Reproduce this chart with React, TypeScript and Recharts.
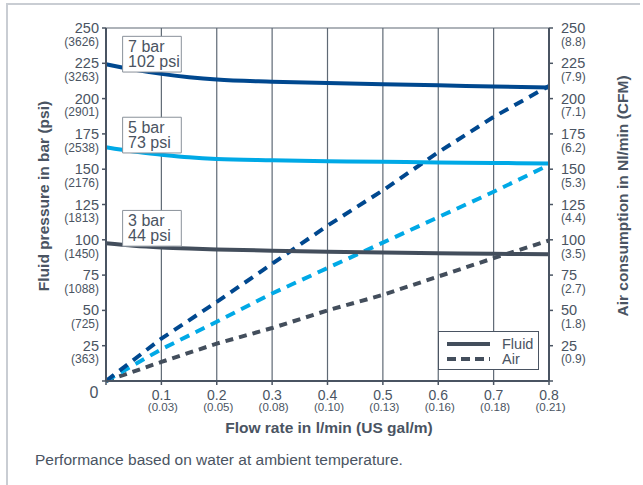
import React from "react";
import {
  ComposedChart,
  Line,
  XAxis,
  YAxis,
  CartesianGrid,
  ReferenceArea,
  Legend,
} from "recharts";

// ---- data ----
const xFluid = [0, 0.05, 0.1, 0.15, 0.2, 0.3, 0.4, 0.5, 0.6, 0.7, 0.8];
const fluid7 = [224.3, 220.5, 217.5, 215.2, 213.5, 212, 211, 210.2, 209.4, 208.6, 207.8];
const fluid5 = [165.5, 162.5, 160.3, 158.4, 157.2, 156.3, 155.7, 155.2, 154.8, 154.4, 154.1];
const fluid3 = [97.6, 95.8, 94.6, 93.8, 93.2, 92.3, 91.6, 91, 90.5, 90.1, 89.7];

const xAir = [0, 0.1, 0.2, 0.3, 0.4, 0.5, 0.6, 0.7, 0.8];
const air7 = [0, 30, 56, 83, 110, 135, 162, 187, 209];
const air5 = [0, 22.5, 42, 62, 80, 98, 116, 134, 153];
const air3 = [0, 13.5, 26.5, 37.5, 50, 61, 74, 87, 99.5];

const xTicks = [0, 0.1, 0.2, 0.3, 0.4, 0.5, 0.6, 0.7, 0.8];
const xTickSub = ["", "(0.03)", "(0.05)", "(0.08)", "(0.10)", "(0.13)", "(0.16)", "(0.18)", "(0.21)"];
const yTicks = [0, 25, 50, 75, 100, 125, 150, 175, 200, 225, 250];
const psiLabels = ["", "(363)", "(725)", "(1088)", "(1450)", "(1813)", "(2176)", "(2538)", "(2901)", "(3263)", "(3626)"];
const cfmLabels = ["", "(0.9)", "(1.8)", "(2.7)", "(3.5)", "(4.4)", "(5.3)", "(6.2)", "(7.1)", "(7.9)", "(8.8)"];

const pressureLabels = [
  { bar: "7 bar", psi: "102 psi", x1: 0.03, x2: 0.136, y1: 218.8, y2: 244.1 },
  { bar: "5 bar", psi: "73 psi", x1: 0.03, x2: 0.136, y1: 161.5, y2: 186.8 },
  { bar: "3 bar", psi: "44 psi", x1: 0.03, x2: 0.136, y1: 95.5, y2: 120.8 },
];

const build = (xs: number[], ys: number[]) => xs.map((x, i) => ({ x, y: ys[i] }));

// ---- styles ----
const NAVY = "#00488f";
const LIGHT = "#00a9e6";
const DARK = "#434e5c";
const TEXT = "#4a5462";
const AXIS = "#4a5462";
const GRID = "#5f6975";
const FONT = "'Liberation Sans', Arial, sans-serif";

const LeftTick = (props: any) => {
  const { x, y, payload } = props;
  const i = yTicks.indexOf(payload.value);
  if (payload.value === 0) return null;
  return (
    <g>
      <text x={x} y={y + 5} textAnchor="end" fontSize={14.5} fill={TEXT} fontFamily={FONT}>
        {payload.value}
      </text>
      <text x={x} y={y + 17.7} textAnchor="end" fontSize={12} fill={TEXT} fontFamily={FONT}>
        {psiLabels[i]}
      </text>
    </g>
  );
};

const RightTick = (props: any) => {
  const { x, y, payload } = props;
  const i = yTicks.indexOf(payload.value);
  if (payload.value === 0) return null;
  return (
    <g>
      <text x={x} y={y + 5} textAnchor="start" fontSize={14.5} fill={TEXT} fontFamily={FONT}>
        {payload.value}
      </text>
      <text x={x} y={y + 17.7} textAnchor="start" fontSize={12} fill={TEXT} fontFamily={FONT}>
        {cfmLabels[i]}
      </text>
    </g>
  );
};

const BottomTick = (props: any) => {
  const { x, y, payload } = props;
  const i = xTicks.indexOf(payload.value);
  if (payload.value === 0) {
    return (
      <text x={x - 12} y={y + 11.3} textAnchor="middle" fontSize={16} fill={TEXT} fontFamily={FONT}>
        0
      </text>
    );
  }
  return (
    <g>
      <text x={x} y={y + 13} textAnchor="middle" fontSize={14} fill={TEXT} fontFamily={FONT}>
        {payload.value}
      </text>
      <text x={x + 1.5} y={y + 24} textAnchor="middle" fontSize={11.5} fill={TEXT} fontFamily={FONT}>
        {xTickSub[i]}
      </text>
    </g>
  );
};

const LegendBox = () => (
  <div
    style={{
      width: 99,
      height: 37,
      border: `1px solid ${AXIS}`,
      background: "#fff",
      boxSizing: "content-box",
    }}
  >
    <svg width={99} height={37}>
      <line x1={8} y1={12} x2={51} y2={12} stroke={DARK} strokeWidth={4} />
      <text x={63} y={17} fontSize={14.5} fill={TEXT} fontFamily={FONT}>Fluid</text>
      <line x1={8} y1={27} x2={51} y2={27} stroke={DARK} strokeWidth={4} strokeDasharray="9 5" />
      <text x={63} y={32} fontSize={14.5} fill={TEXT} fontFamily={FONT}>Air</text>
    </svg>
  </div>
);

export default function App() {
  return (
    <div style={{ position: "absolute", left: 0, top: 0, width: 643, height: 485, background: "#fff" }}>
      <div
        style={{
          position: "absolute",
          left: 6,
          top: 3,
          width: 634,
          height: 482,
          borderTop: "2px solid #c9cdd3",
          borderLeft: "2px solid #c9cdd3",
          boxSizing: "border-box",
        }}
      />
      <ComposedChart
        width={643}
        height={485}
        margin={{ top: 28, right: 34, bottom: 64, left: 46 }}
        style={{ position: "absolute", left: 0, top: 0 }}
      >
        <CartesianGrid stroke={GRID} strokeWidth={1.2} />
        <XAxis
          dataKey="x"
          type="number"
          domain={[0, 0.8]}
          ticks={xTicks}
          interval={0}
          height={40}
          axisLine={{ stroke: AXIS, strokeWidth: 2 }}
          tickLine={{ stroke: AXIS, strokeWidth: 1.5 }}
          tickSize={4}
          tickMargin={2}
          tick={<BottomTick />}
          allowDuplicatedCategory={false}
          label={{
            content: () => (
              <text x={329} y={433} textAnchor="middle" fontSize={15.5} fontWeight="bold" fill={TEXT} fontFamily={FONT}>
                Flow rate in l/min (US gal/m)
              </text>
            ),
          }}
        />
        <YAxis
          yAxisId="l"
          type="number"
          domain={[0, 250]}
          ticks={yTicks}
          interval={0}
          width={60}
          axisLine={{ stroke: AXIS, strokeWidth: 2 }}
          tickLine={{ stroke: AXIS, strokeWidth: 1.5 }}
          tickSize={4}
          tickMargin={3}
          tick={<LeftTick />}
          label={{
            content: () => (
              <text
                x={43.5}
                y={196}
                transform="rotate(-90 43.5 196)"
                textAnchor="middle"
                dominantBaseline="central"
                fontSize={15.5}
                fontWeight="bold"
                fill={TEXT}
                fontFamily={FONT}
              >
                Fluid pressure in bar (psi)
              </text>
            ),
          }}
        />
        <YAxis
          yAxisId="r"
          orientation="right"
          type="number"
          domain={[0, 250]}
          ticks={yTicks}
          interval={0}
          width={60}
          axisLine={{ stroke: AXIS, strokeWidth: 2 }}
          tickLine={{ stroke: AXIS, strokeWidth: 1.5 }}
          tickSize={4}
          tickMargin={8}
          tick={<RightTick />}
          label={{
            content: () => (
              <text
                x={622.5}
                y={196}
                transform="rotate(-90 622.5 196)"
                textAnchor="middle"
                dominantBaseline="central"
                fontSize={15.5}
                fontWeight="bold"
                fill={TEXT}
                fontFamily={FONT}
              >
                Air consumption in Nl/min (CFM)
              </text>
            ),
          }}
        />
        <Line yAxisId="r" data={build(xAir, air3)} dataKey="y" type="linear" stroke={DARK} strokeWidth={4} strokeDasharray="8 6" dot={false} isAnimationActive={false} legendType="none" />
        <Line yAxisId="r" data={build(xAir, air5)} dataKey="y" type="linear" stroke={LIGHT} strokeWidth={4} strokeDasharray="10 7" dot={false} isAnimationActive={false} legendType="none" />
        <Line yAxisId="r" data={build(xAir, air7)} dataKey="y" type="linear" stroke={NAVY} strokeWidth={4} strokeDasharray="10 7" dot={false} isAnimationActive={false} legendType="none" />
        <Line yAxisId="l" data={build(xFluid, fluid3)} dataKey="y" type="monotone" stroke={DARK} strokeWidth={4} dot={false} isAnimationActive={false} legendType="none" />
        <Line yAxisId="l" data={build(xFluid, fluid5)} dataKey="y" type="monotone" stroke={LIGHT} strokeWidth={4} dot={false} isAnimationActive={false} legendType="none" />
        <Line yAxisId="l" data={build(xFluid, fluid7)} dataKey="y" type="monotone" stroke={NAVY} strokeWidth={4} dot={false} isAnimationActive={false} legendType="none" />
        {pressureLabels.map((p) => (
          <ReferenceArea
            key={p.bar}
            yAxisId="l"
            x1={p.x1}
            x2={p.x2}
            y1={p.y1}
            y2={p.y2}
            fill="#ffffff"
            fillOpacity={1}
            stroke="#8a919a"
            strokeWidth={1}
            zIndex={1000}
            label={{
              content: (lp: any) => {
                const vb = lp.viewBox || { x: 0, y: 0 };
                return (
                  <g>
                    <text x={vb.x + 5.5} y={vb.y + 15.7} fontSize={16} fill={TEXT} fontFamily={FONT}>
                      {p.bar}
                    </text>
                    <text x={vb.x + 5.5} y={vb.y + 30.7} fontSize={16} fill={TEXT} fontFamily={FONT}>
                      {p.psi}
                    </text>
                  </g>
                );
              },
            }}
          />
        ))}
        <Legend
          layout="vertical"
          align="center"
          verticalAlign="middle"
          content={<LegendBox />}
          wrapperStyle={{ position: "absolute", left: 438, top: 331, width: 101, height: 39 }}
        />
      </ComposedChart>
      <div
        style={{
          position: "absolute",
          left: 35,
          top: 451,
          fontFamily: FONT,
          fontSize: 15.5,
          color: TEXT,
          whiteSpace: "nowrap",
        }}
      >
        Performance based on water at ambient temperature.
      </div>
    </div>
  );
}
